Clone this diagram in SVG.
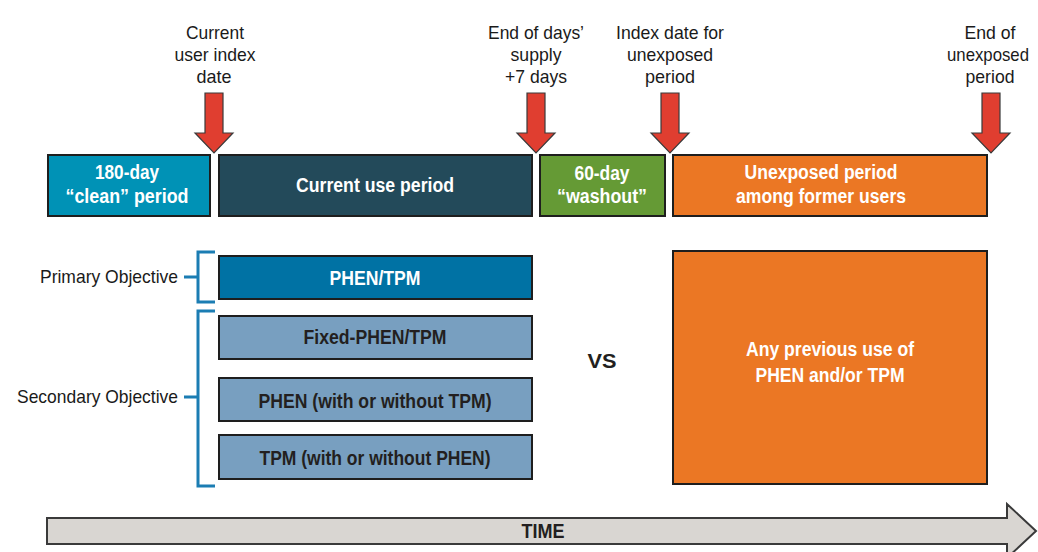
<svg xmlns="http://www.w3.org/2000/svg" width="1038" height="552" viewBox="0 0 1038 552">
<style>
text{lengthAdjust:spacingAndGlyphs}
.lbl{font-family:"Liberation Sans",Arial,sans-serif;font-size:19px;fill:#1a1a1a;text-anchor:middle}
.obj{font-family:"Liberation Sans",Arial,sans-serif;font-size:19px;fill:#1a1a1a;text-anchor:end}
.bw{font-family:"Liberation Sans",Arial,sans-serif;font-size:20px;font-weight:bold;fill:#fff;text-anchor:middle}
.bd{font-family:"Liberation Sans",Arial,sans-serif;font-size:20px;font-weight:bold;fill:#231f20;text-anchor:middle}
.box{stroke:#1e1e1e;stroke-width:2}
.light{fill:#789fc0}
.arr{fill:#e03e30;stroke:#3a3a3a;stroke-width:1.2}
.br{fill:none;stroke:#1b7db3;stroke-width:3}
</style>
<defs>
<path id="dn" d="M-9,-60 H9 V-20 H19 L0,0 L-19,-20 H-9 Z"/>
</defs>
<g id="time-arrow">
<path d="M47,518 H1007 V504 L1036,531 L1007,558 V544 H47 Z" fill="#d9d6d2" stroke="#3a3a3a" stroke-width="2"/>
<text class="bd" x="543" y="538" font-size="19" textLength="43" lengthAdjust="spacingAndGlyphs">TIME</text>
</g>
<g id="markers">
<g id="m-current"><use href="#dn" class="arr" x="214" y="153"/>
<text class="lbl" x="215" y="39" textLength="58" lengthAdjust="spacingAndGlyphs">Current</text>
<text class="lbl" x="215" y="61" textLength="81" lengthAdjust="spacingAndGlyphs">user index</text>
<text class="lbl" x="214" y="83" textLength="35" lengthAdjust="spacingAndGlyphs">date</text></g>
<g id="m-end-supply"><use href="#dn" class="arr" x="536" y="153"/>
<text class="lbl" x="536" y="39" textLength="96" lengthAdjust="spacingAndGlyphs">End of days’</text>
<text class="lbl" x="536" y="61" textLength="51" lengthAdjust="spacingAndGlyphs">supply</text>
<text class="lbl" x="536" y="83" textLength="62" lengthAdjust="spacingAndGlyphs">+7 days</text></g>
<g id="m-index-unexposed"><use href="#dn" class="arr" x="670" y="153"/>
<text class="lbl" x="670" y="39" textLength="108" lengthAdjust="spacingAndGlyphs">Index date for</text>
<text class="lbl" x="670" y="61" textLength="86" lengthAdjust="spacingAndGlyphs">unexposed</text>
<text class="lbl" x="670" y="83" textLength="50" lengthAdjust="spacingAndGlyphs">period</text></g>
<g id="m-end-unexposed"><use href="#dn" class="arr" x="991" y="153"/>
<text class="lbl" x="990" y="39" textLength="51" lengthAdjust="spacingAndGlyphs">End of</text>
<text class="lbl" x="988" y="61" textLength="82" lengthAdjust="spacingAndGlyphs">unexposed</text>
<text class="lbl" x="990" y="83" textLength="49" lengthAdjust="spacingAndGlyphs">period</text></g>
</g>
<g id="clean"><rect class="box" x="48" y="155" width="162" height="61" fill="#0092b6"/>
<text class="bw" x="127" y="179" textLength="64" lengthAdjust="spacingAndGlyphs">180-day</text>
<text class="bw" x="127" y="203" textLength="123" lengthAdjust="spacingAndGlyphs">“clean” period</text></g>
<g id="current-use"><rect class="box" x="219" y="155" width="313" height="61" fill="#234a5a"/>
<text class="bw" x="375" y="192" textLength="158" lengthAdjust="spacingAndGlyphs">Current use period</text></g>
<g id="washout"><rect class="box" x="540" y="155" width="125" height="61" fill="#659a35"/>
<text class="bw" x="602" y="180" textLength="55" lengthAdjust="spacingAndGlyphs">60-day</text>
<text class="bw" x="602" y="203" textLength="90" lengthAdjust="spacingAndGlyphs">“washout”</text></g>
<g id="unexposed"><rect class="box" x="673" y="155" width="314" height="61" fill="#eb7724"/>
<text class="bw" x="821" y="179" textLength="153" lengthAdjust="spacingAndGlyphs">Unexposed period</text>
<text class="bw" x="821" y="203" textLength="170" lengthAdjust="spacingAndGlyphs">among former users</text></g>
<g id="primary">
<path class="br" d="M215,252 H198 V302 H215 M184,277 H198"/>
<text class="obj" x="178" y="283" textLength="138" lengthAdjust="spacingAndGlyphs">Primary Objective</text>
</g>
<g id="secondary">
<path class="br" d="M215,311 H198 V486 H215 M184,397 H198"/>
<text class="obj" x="178" y="403" textLength="161" lengthAdjust="spacingAndGlyphs">Secondary Objective</text>
</g>
<g id="phen-tpm"><rect class="box" x="219" y="256" width="313" height="43" fill="#0072a4"/>
<text class="bw" x="375" y="285" textLength="91" lengthAdjust="spacingAndGlyphs">PHEN/TPM</text></g>
<g id="fixed"><rect class="box light" x="219" y="316" width="313" height="43"/>
<text class="bd" x="375" y="344" textLength="143" lengthAdjust="spacingAndGlyphs">Fixed-PHEN/TPM</text></g>
<g id="phen"><rect class="box light" x="219" y="378" width="313" height="43"/>
<text class="bd" x="375" y="408" textLength="233" lengthAdjust="spacingAndGlyphs">PHEN (with or without TPM)</text></g>
<g id="tpm"><rect class="box light" x="219" y="435" width="313" height="44"/>
<text class="bd" x="375" y="465" textLength="231" lengthAdjust="spacingAndGlyphs">TPM (with or without PHEN)</text></g>
<g id="vs"><text class="bd" x="602" y="368" font-size="24" fill="#111" textLength="29" lengthAdjust="spacingAndGlyphs">VS</text></g>
<g id="any-previous"><rect class="box" x="673" y="251" width="314" height="233" fill="#eb7724"/>
<text class="bw" x="830" y="356" textLength="168" lengthAdjust="spacingAndGlyphs">Any previous use of</text>
<text class="bw" x="830" y="382" textLength="149" lengthAdjust="spacingAndGlyphs">PHEN and/or TPM</text></g>
<g id="connectors"/>
</svg>
